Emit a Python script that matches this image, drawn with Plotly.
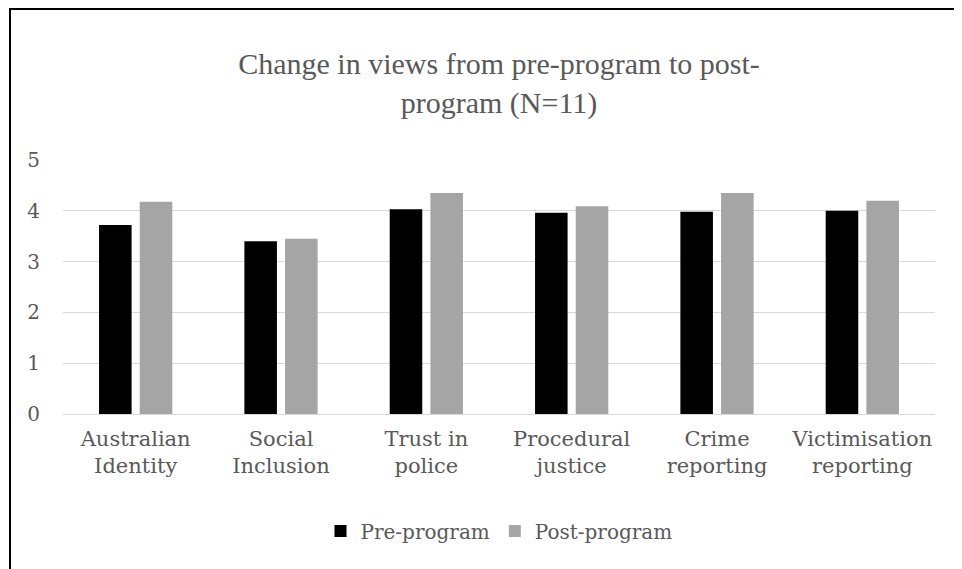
import plotly.graph_objects as go

categories = ["Australian<br>Identity", "Social<br>Inclusion", "Trust in<br>police",
              "Procedural<br>justice", "Crime<br>reporting", "Victimisation<br>reporting"]
pre_program = [3.72, 3.40, 4.03, 3.96, 3.98, 4.00]
post_program = [4.18, 3.45, 4.35, 4.09, 4.35, 4.20]
y_ticks = [0, 1, 2, 3, 4, 5]

# page body has an 8px margin, so the figure is a bit smaller than the window
W, H = 954, 561
ML, MR, MT, MB = 55, 27, 152, 155
PW, PH = W - ML - MR, H - MT - MB

def px_x(px):
    return (px - ML) / PW

def px_y(py):
    return (H - MB - py) / PH

FONT = "DejaVu Serif"
TFONT = "Liberation Serif"
GREY = "#595959"

fig = go.Figure()
fig.add_trace(go.Bar(name="Pre-program", x=categories, y=pre_program,
                     marker=dict(color="#000000", line=dict(width=0))))
fig.add_trace(go.Bar(name="Post-program", x=categories, y=post_program,
                     marker=dict(color="#A5A5A5", line=dict(width=0))))

fig.update_layout(
    width=W, height=H,
    margin=dict(l=ML, r=MR, t=MT, b=MB),
    paper_bgcolor="white", plot_bgcolor="white",
    barmode="group", bargap=0.44, bargroupgap=0.2,
    font=dict(family=FONT, color=GREY, size=20),
    title=dict(text="Change in views from pre-program to post-<br>program (N=11)",
               x=0.5, xanchor="center", xref="paper",
               y=1 - 66 / H, yanchor="middle", yref="container",
               font=dict(family=TFONT, size=30, color=GREY)),
    showlegend=True,
    legend=dict(orientation="h", x=0.5, xanchor="center", y=px_y(523), yanchor="middle",
                font=dict(family=FONT, size=20, color=GREY),
                itemwidth=30, traceorder="normal"),
    xaxis=dict(showgrid=False, showline=False, ticks="", ticklabelstandoff=10,
               tickfont=dict(size=21, color=GREY)),
    yaxis=dict(range=[0, 5], tickvals=y_ticks, showgrid=True, gridcolor="#D9D9D9",
               gridwidth=1.3, zeroline=True, zerolinecolor="#D9D9D9", zerolinewidth=1.3,
               showline=False, ticks="", ticklabelstandoff=22,
               tickfont=dict(size=20, color=GREY)),
    shapes=[
        dict(type="line", xref="paper", yref="paper", x0=px_x(1), x1=px_x(W + 5),
             y0=px_y(1), y1=px_y(1), line=dict(color="black", width=2)),
        dict(type="line", xref="paper", yref="paper", x0=px_x(2), x1=px_x(2),
             y0=px_y(0), y1=px_y(H + 5), line=dict(color="black", width=2)),
    ],
)

fig.write_html("out.html")
